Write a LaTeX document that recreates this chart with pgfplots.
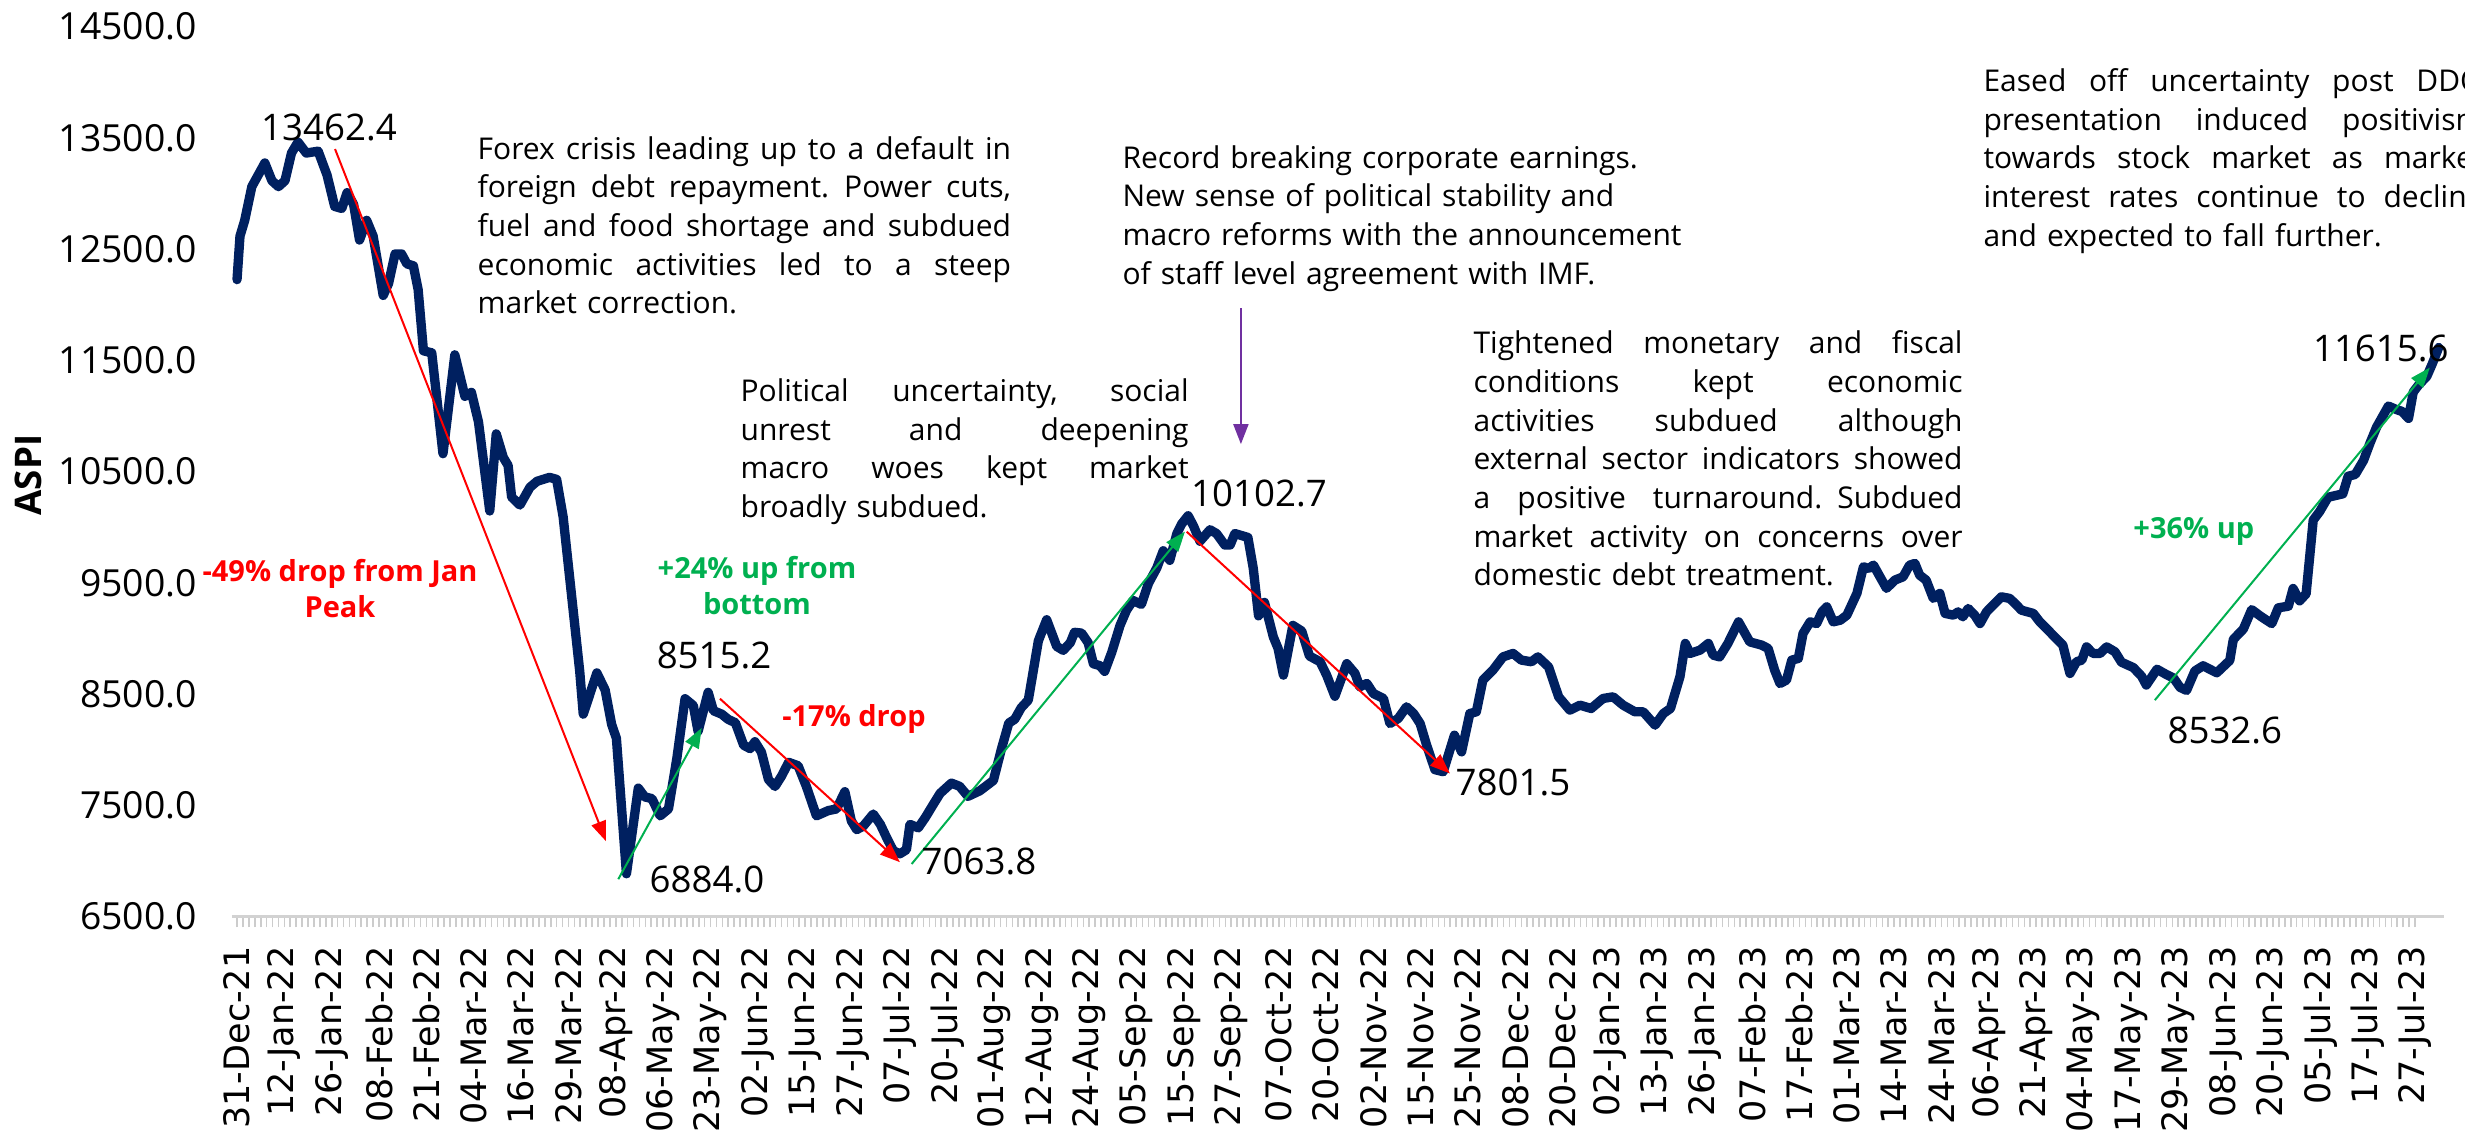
\documentclass[border=0pt]{standalone}
\usepackage{fontspec}
\setmainfont{Open Sans}
\newfontfamily\dejavu{DejaVu Sans}
\usepackage{pgfplots}
\pgfplotsset{compat=1.18}
\usetikzlibrary{arrows.meta}
\definecolor{navy}{HTML}{002060}
\definecolor{xred}{HTML}{FF0000}
\definecolor{xgreen}{HTML}{00B050}
\definecolor{xpurple}{HTML}{7030A0}
% justified line inside a fixed-width node (tikz align=left makes spaces rigid)
\newcommand{\jl}[1]{\makebox[\hsize][s]{\spaceskip=\fontdimen2\font plus 1fil\relax #1}\\}
\begin{document}
\begin{tikzpicture}
\begin{axis}[
    width=663.6pt, height=266.94pt, scale only axis,
    xmin=-0.85, xmax=372.9, ymin=6500, ymax=14500,
    clip=false,
    axis lines*=left,
    y axis line style={draw=none},
    x axis line style={draw=gray!35, line width=0.8pt},
    ytick={6500,7500,...,14500},
    ytick style={draw=none},
    scaled y ticks=false,
    /pgf/number format/fixed,
    /pgf/number format/fixed zerofill,
    /pgf/number format/precision=1,
    /pgf/number format/1000 sep={},
    /pgf/number format/assume math mode=true,
    yticklabel style={font=\fontsize{11.2}{13}\selectfont},
    yticklabel shift=3.7pt,
    xtick={0,8,...,368},
    xticklabels={31-Dec-21,12-Jan-22,26-Jan-22,08-Feb-22,21-Feb-22,04-Mar-22,16-Mar-22,29-Mar-22,
        08-Apr-22,06-May-22,23-May-22,02-Jun-22,15-Jun-22,27-Jun-22,07-Jul-22,20-Jul-22,
        01-Aug-22,12-Aug-22,24-Aug-22,05-Sep-22,15-Sep-22,27-Sep-22,07-Oct-22,20-Oct-22,
        02-Nov-22,15-Nov-22,25-Nov-22,08-Dec-22,20-Dec-22,02-Jan-23,13-Jan-23,26-Jan-23,
        07-Feb-23,17-Feb-23,01-Mar-23,14-Mar-23,24-Mar-23,06-Apr-23,21-Apr-23,04-May-23,
        17-May-23,29-May-23,08-Jun-23,20-Jun-23,05-Jul-23,17-Jul-23,27-Jul-23},
    minor x tick num=7,
    tick align=outside,
    major tick length=3.3pt, minor tick length=3.3pt,
    xtick style={draw=gray!40, line width=0.5pt},
    minor x tick style={draw=gray!40, line width=0.5pt},
    xticklabel style={font=\dejavu\fontsize{10.5}{12}\selectfont, rotate=90, anchor=east, inner sep=0pt},
    xticklabel shift=5.5pt,
]
\addplot[navy, line width=2.8pt, line join=round, line cap=round] coordinates {
(0.0,12226) (0.5,12617) (1.3,12759) (2.5,13062) (4.7,13275) (5.9,13115) (7.0,13062) (8.1,13115)
(9.2,13364) (10.3,13462.4) (11.7,13364) (13.7,13381) (15.2,13168) (16.5,12884) (17.7,12866)
(18.6,13008) (19.7,12902) (20.7,12582) (21.9,12759) (23.0,12617) (24.7,12084) (25.6,12191)
(26.7,12457) (27.8,12457) (28.7,12368) (29.8,12350) (30.6,12137) (31.5,11586) (32.9,11568)
(34.8,10661) (36.8,11550) (38.5,11177) (39.6,11212) (40.8,10946) (42.7,10146) (43.8,10839)
(45.0,10626) (45.8,10555) (46.4,10271) (47.8,10199) (49.5,10359) (50.7,10413) (52.8,10448)
(54.0,10430) (55.1,10093) (57.9,8706) (58.5,8319) (60.8,8690) (62.2,8536) (63.3,8226)
(64.1,8102) (65.8,6884.0) (67.8,7654) (68.9,7575) (70.1,7560) (71.5,7405) (72.9,7467)
(74.3,7916) (75.7,8458) (77.1,8396) (77.9,8164) (79.6,8515.2) (80.5,8350) (81.9,8319)
(83.0,8272) (84.2,8242) (85.6,8040) (86.7,8009) (87.5,8071) (88.6,7978) (89.8,7731)
(90.9,7669) (92.0,7762) (93.2,7886) (94.8,7855) (96.2,7669) (97.9,7405) (99.9,7452)
(101.3,7467) (102.7,7622) (103.8,7359) (104.7,7281) (105.8,7312) (107.5,7421) (108.7,7328)
(109.8,7204) (110.9,7090) (112.0,7063.8) (113.1,7100) (113.7,7328) (115.1,7297) (116.3,7390)
(117.7,7513) (118.8,7607) (120.7,7699) (122.1,7670) (123.5,7580) (125.5,7630) (127.8,7723)
(129.2,8015) (130.4,8239) (131.4,8273) (132.5,8377) (133.7,8446) (135.4,8979) (136.8,9168)
(138.5,8928) (139.6,8893) (140.8,8962) (141.5,9055) (142.7,9048) (143.8,8962) (144.7,8772)
(145.8,8755) (146.6,8704) (147.8,8876) (149.2,9117) (150.3,9254) (151.4,9341) (152.8,9306)
(154.0,9495) (155.4,9633) (156.5,9788) (157.6,9702) (158.8,9943) (159.6,10029) (160.7,10102.7)
(161.6,10012) (162.7,9874) (164.4,9977) (165.5,9943) (166.9,9840) (167.8,9840) (168.6,9943)
(170.8,9908) (171.7,9633) (172.6,9203) (173.6,9324) (175.1,9013) (175.9,8910) (176.8,8670)
(178.4,9117) (179.9,9066) (181.2,8842) (183.0,8790) (184.1,8670) (185.5,8480) (187.5,8773)
(188.9,8685) (189.7,8565) (190.9,8595) (192.0,8505) (193.7,8460) (194.8,8235) (196.2,8280)
(197.6,8385) (198.8,8325) (199.9,8235) (201.0,8040) (202.4,7820) (203.8,7801.5) (205.7,8130)
(206.9,7980) (208.3,8325) (209.4,8340) (210.5,8625) (212.2,8715) (213.9,8834) (215.6,8865)
(217.0,8805) (218.7,8790) (219.8,8834) (221.6,8744) (223.3,8475) (225.2,8355) (226.9,8400)
(228.8,8370) (230.8,8460) (232.5,8475) (234.2,8400) (236.2,8340) (237.6,8340) (239.6,8220)
(241.0,8325) (242.2,8370) (243.8,8655) (244.7,8955) (245.5,8865) (247.2,8895) (248.6,8955)
(249.4,8850) (250.5,8834) (251.9,8955) (253.7,9149) (255.6,8969) (257.6,8940) (258.7,8910)
(259.8,8715) (260.7,8595) (261.8,8625) (262.7,8805) (263.8,8820) (264.6,9045) (265.8,9149)
(266.9,9134) (267.8,9239) (268.6,9284) (269.7,9149) (270.9,9164) (272.0,9209) (273.7,9405)
(274.8,9644) (275.7,9629) (276.5,9659) (277.6,9554) (278.7,9450) (280.1,9524) (281.5,9554)
(282.6,9659) (283.5,9674) (284.3,9569) (285.4,9524) (286.6,9360) (287.7,9405) (288.6,9225)
(290.0,9209) (290.8,9239) (291.6,9194) (292.5,9269) (293.6,9209) (294.5,9134) (295.6,9239)
(297.0,9315) (298.1,9374) (299.5,9360) (300.4,9315) (301.5,9254) (303.5,9225) (304.6,9149)
(306.0,9075) (307.1,9014) (308.5,8940) (309.7,8685) (310.8,8790) (311.7,8805) (312.5,8924)
(313.6,8865) (314.8,8865) (315.9,8924) (317.3,8880) (318.4,8786) (320.4,8738) (321.8,8660)
(322.6,8581) (324.4,8723) (326.0,8675) (327.2,8644) (328.3,8560) (329.4,8532.6) (330.8,8707)
(332.2,8754) (334.5,8691) (336.7,8802) (337.3,8991) (339.0,9085) (340.4,9259) (342.0,9196)
(343.8,9133) (344.9,9275) (346.6,9290) (347.4,9449) (348.5,9338) (349.6,9401) (350.8,10064)
(351.9,10142) (353.3,10269) (355.8,10300) (356.7,10458) (357.9,10474) (359.3,10600)
(360.4,10757) (361.5,10899) (363.5,11089) (364.9,11057) (365.8,11041) (366.9,10978)
(367.7,11215) (368.6,11278) (370.0,11357) (370.9,11467) (372.0,11615.6)
};

% trend arrows
\draw[xred, line width=0.6pt, -{Triangle[length=6pt,width=4.5pt]}] (axis cs:16.56,13400) -- (axis cs:62.34,7177);
\draw[xgreen, line width=0.6pt, -{Triangle[length=6pt,width=4.5pt]}] (axis cs:64.42,6835) -- (axis cs:78.51,8195);
\draw[xred, line width=0.6pt, -{Triangle[length=6pt,width=4.5pt]}] (axis cs:81.60,8458) -- (axis cs:112.01,6988);
\draw[xgreen, line width=0.6pt, -{Triangle[length=6pt,width=4.5pt]}] (axis cs:113.99,6972) -- (axis cs:160.16,9960);
\draw[xred, line width=0.6pt, -{Triangle[length=6pt,width=4.5pt]}] (axis cs:160.45,9960) -- (axis cs:204.93,7786);
\draw[xgreen, line width=0.6pt, -{Triangle[length=6pt,width=4.5pt]}] (axis cs:324.04,8445) -- (axis cs:370.50,11435);
\draw[xpurple, line width=0.6pt, -{Triangle[length=6pt,width=4.5pt]}] (axis cs:169.62,11970) -- (axis cs:169.62,10747);

% value labels
\begin{scope}[every node/.style={font=\fontsize{11}{13}\selectfont, inner sep=0pt}]
\node at (axis cs:15.54,13598) {13462.4};
\node at (axis cs:172.67,10307) {10102.7};
\node at (axis cs:362.22,11611) {11615.6};
\node at (axis cs:79.41,6835) {6884.0};
\node at (axis cs:80.60,8845) {8515.2};
\node at (axis cs:125.36,6997) {7063.8};
\node at (axis cs:215.58,7708) {7801.5};
\node at (axis cs:335.87,8175) {8532.6};
\end{scope}

% percentage labels
\begin{scope}[every node/.style={font=\bfseries\fontsize{8.7}{10.8}\selectfont, inner sep=0pt, align=center}]
\node[text=xred] at (axis cs:17.40,9452) {-49\% drop from Jan\\Peak};
\node[text=xgreen] at (axis cs:87.85,9479) {+24\% up from\\bottom};
\node[text=xred] at (axis cs:104.24,8274) {-17\% drop};
\node[text=xgreen] at (axis cs:330.63,9965) {+36\% up};
\end{scope}

\node[rotate=90, font=\bfseries\fontsize{11}{13}\selectfont] at (axis cs:-35.31,10468) {ASPI};

% commentary
\begin{scope}[every node/.style={font=\fontsize{9}{11.6}\selectfont, inner sep=0pt, anchor=north west, align=left}]
\node[text width=160pt] at (axis cs:40.55,13520) {%
\jl{Forex crisis leading up to a default in}
\jl{foreign debt repayment. Power cuts,}
\jl{fuel and food shortage and subdued}
\jl{economic activities led to a steep}
market correction.};
\node[text width=134.4pt] at (axis cs:84.98,11340) {%
\jl{Political uncertainty, social}
\jl{unrest and deepening}
\jl{macro woes kept market}
broadly subdued.};
\node[text width=170pt] at (axis cs:149.52,13440) {%
Record breaking corporate earnings.\\
New sense of political stability and\\
macro reforms with the announcement\\
of staff level agreement with IMF.};
\node[text width=146.7pt] at (axis cs:208.82,11770) {%
\jl{Tightened monetary and fiscal}
\jl{conditions kept economic}
\jl{activities subdued although}
\jl{external sector indicators showed}
\jl{a positive turnaround. Subdued}
\jl{market activity on concerns over}
domestic debt treatment.};
\node[text width=150pt] at (axis cs:294.98,14130) {%
\jl{Eased off uncertainty post DDO}
\jl{presentation induced positivism}
\jl{towards stock market as market}
\jl{interest rates continue to decline}
and expected to fall further.};
\end{scope}
\end{axis}
\pgfresetboundingbox
\path[use as bounding box] (-69.6pt,-66.45pt) rectangle (669.9pt,274.95pt);
\end{tikzpicture}
\end{document}
